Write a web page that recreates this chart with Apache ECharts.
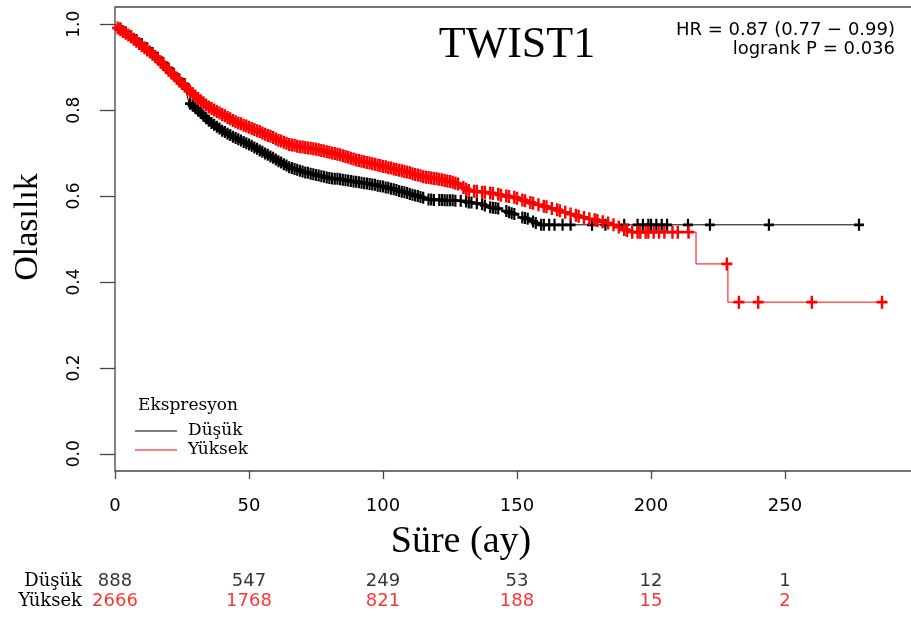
<!DOCTYPE html>
<html>
<head>
<meta charset="utf-8">
<script src="https://cdn.jsdelivr.net/npm/echarts@6.0.0/dist/echarts.min.js"></script>
<style>
  html, body { margin: 0; padding: 0; background: #fff; }
  #chart { width: 911px; height: 617px; }
</style>
</head>
<body>
<div id="chart"></div>
<script>
// Kaplan–Meier survival, TWIST1 expression groups (time in months)

// Survival outline, low expression (Düşük)
const dusukKM = [[0,1],[5,0.978],[10,0.955],[15,0.928],[20,0.897],[24,0.871],[26,0.86],[27.5,0.818],[30,0.805],[35,0.775],[40,0.752],[45,0.735],[50,0.72],[55,0.703],[60,0.685],[65,0.667],[70,0.657],[75,0.649],[80,0.642],[85,0.638],[90,0.633],[95,0.628],[100,0.622],[105,0.614],[110,0.605],[115,0.596],[117,0.592],[130,0.589],[132,0.585],[137,0.581],[139,0.574],[146,0.565],[149,0.558],[152,0.55],[155,0.545],[157,0.537],[159,0.533],[277.6,0.533]];

// Censored observations, low expression
const dusukCensor = [[2,0.990],[4,0.981],[6,0.972],[8,0.963],[10,0.954],[12,0.944],[14,0.933],[16,0.922],[18,0.910],[20,0.897],[22,0.884],[24,0.871],[26,0.86],
[28,0.815],[29,0.810],[30,0.805],[31,0.799],[32,0.793],[33,0.787],[34,0.781],[35,0.775],[36,0.770],[37,0.766],[38,0.761],[39,0.757],[40,0.752],[41,0.749],[42,0.745],[43,0.742],[44,0.738],[45,0.735],[46,0.732],[47,0.729],[48,0.726],[49,0.723],[50,0.720],[51,0.717],[52,0.713],[53,0.710],[54,0.706],[55,0.703],[56,0.699],[57,0.696],[58,0.692],[59,0.689],[60,0.685],[61,0.681],[62,0.678],[63,0.674],[64,0.671],[65,0.667],[66,0.665],[67,0.663],[68,0.661],[69,0.659],[70,0.657],[71,0.655],[72,0.654],[73,0.652],[74,0.651],[75,0.649],[76,0.648],[77,0.646],[78,0.645],[79,0.643],[80,0.642],[81,0.641],[82,0.640],[83,0.640],[84,0.639],[85,0.638],[86,0.637],[87,0.636],[88,0.635],[89,0.634],[90,0.633],[91,0.632],[92,0.631],[93,0.630],[94,0.629],[95,0.628],[96,0.627],[97,0.626],[98,0.624],[99,0.623],[100,0.622],[101,0.620],[102,0.619],[103,0.617],[104,0.616],[105,0.614],[106,0.612],[107,0.610],[108,0.609],[109,0.607],[110,0.605],[111,0.603],[112,0.601],[113,0.600],[114,0.598],[115,0.596],
[117,0.592],[118,0.592],[119,0.591],[121,0.591],[122,0.591],[123,0.590],[124,0.590],[125,0.590],[126,0.590],[127,0.589],[129,0.589],[131,0.587],[132,0.585],[133,0.585],[135,0.583],[137,0.581],[138,0.578],[140,0.574],[141,0.573],[142,0.572],[143,0.571],[146,0.565],[147,0.562],[148,0.560],[149,0.558],[152,0.550],[153,0.549],[154,0.547],[156,0.541],[157,0.537],[159,0.533],[160,0.533],[162,0.533],[164,0.533],[167,0.533],[170,0.533],[178,0.533],[183,0.533],[190,0.533],[195,0.533],[197,0.533],[199,0.533],[200,0.533],[202,0.533],[204,0.533],[206,0.533],[213.8,0.533],[222,0.533],[244,0.533],[277.6,0.533]];

// Survival outline, high expression (Yüksek)
const yuksekKM = [[0,1],[1,0.991],[5,0.975],[10,0.95],[15,0.925],[20,0.893],[25,0.862],[30,0.832],[35,0.807],[40,0.79],[45,0.773],[50,0.76],[55,0.747],[60,0.733],[65,0.72],[70,0.714],[75,0.709],[80,0.702],[85,0.694],[90,0.684],[95,0.677],[100,0.669],[105,0.662],[110,0.654],[115,0.645],[120,0.64],[125,0.634],[128,0.628],[132,0.613],[140,0.607],[150,0.595],[155,0.585],[160,0.576],[165,0.568],[170,0.558],[175,0.55],[180,0.543],[185,0.535],[190,0.522],[193,0.516],[216.8,0.516],[216.8,0.442],[228.7,0.442],[228.7,0.353],[286.2,0.353]];

// Censored observations, high expression
const yuksekCensor = [[1,0.991],[2,0.987],[3,0.983],[4,0.979],[5,0.975],[6,0.970],[7,0.965],[8,0.960],[9,0.955],[10,0.950],[11,0.945],[12,0.940],[13,0.935],[14,0.930],[15,0.925],[16,0.919],[17,0.912],[18,0.906],[19,0.899],[20,0.893],[21,0.887],[22,0.881],[23,0.874],[24,0.868],[25,0.862],[26,0.856],[27,0.850],[28,0.844],[29,0.838],[30,0.832],[31,0.827],[32,0.822],[33,0.817],[34,0.812],[35,0.807],[36,0.804],[37,0.800],[38,0.797],[39,0.793],[40,0.790],[41,0.787],[42,0.783],[43,0.780],[44,0.776],[45,0.773],[46,0.770],[47,0.768],[48,0.765],[49,0.763],[50,0.760],[51,0.757],[52,0.755],[53,0.752],[54,0.750],[55,0.747],[56,0.744],[57,0.741],[58,0.739],[59,0.736],[60,0.733],[61,0.730],[62,0.728],[63,0.725],[64,0.723],[65,0.720],[66,0.719],[67,0.718],[68,0.716],[69,0.715],[70,0.714],[71,0.713],[72,0.712],[73,0.711],[74,0.710],[75,0.709],[76,0.708],[77,0.706],[78,0.705],[79,0.703],[80,0.702],[81,0.700],[82,0.699],[83,0.697],[84,0.696],[85,0.694],[86,0.692],[87,0.690],[88,0.688],[89,0.686],[90,0.684],[91,0.683],[92,0.681],[93,0.680],[94,0.678],[95,0.677],[96,0.675],[97,0.674],[98,0.672],[99,0.671],[100,0.669],[101,0.668],[102,0.666],[103,0.665],[104,0.663],[105,0.662],[106,0.660],[107,0.659],[108,0.657],[109,0.656],[110,0.654],[111,0.652],[112,0.650],[113,0.649],[114,0.647],[115,0.645],[116,0.644],[117,0.643],[118,0.642],[119,0.641],[120,0.640],[121,0.639],[122,0.638],[123,0.636],[124,0.635],[125,0.634],[126,0.632],[127,0.630],[128,0.628],
[130,0.620],[131,0.616],[132,0.613],[134,0.611],[135,0.611],[137,0.609],[138,0.609],[140,0.607],[141,0.606],[143,0.604],[144,0.602],[146,0.600],[147,0.599],[149,0.597],[150,0.595],[152,0.591],[153,0.589],[155,0.585],[156,0.583],[158,0.580],[160,0.576],[161,0.575],[163,0.571],[165,0.568],[166,0.566],[168,0.562],[170,0.558],[172,0.555],[173,0.553],[175,0.550],[177,0.547],[179,0.545],[180,0.543],[182,0.540],[184,0.537],[186,0.533],[188,0.528],[190,0.522],[191,0.520],[193,0.516],[195,0.516],[196,0.516],[198,0.516],[199,0.516],[201,0.516],[203,0.516],[205,0.516],[208,0.516],[210,0.516],[214,0.516],[228.3,0.442],[232.8,0.353],[240,0.353],[260,0.353],[286.2,0.353]];

// Numbers at risk
const riskTimes = [0, 50, 100, 150, 200, 250];
const riskDusuk = [888, 547, 249, 53, 12, 1];
const riskYuksek = [2666, 1768, 821, 188, 15, 2];

// Axis tick values
const xTicks = [0, 50, 100, 150, 200, 250];
const yTicks = [0, 0.2, 0.4, 0.6, 0.8, 1.0];

const groupNames = ['Düşük', 'Yüksek'];
const SANS = 'DejaVu Sans';
const SERIF2 = 'DejaVu Serif';
// censoring tick: a plus sign
const plusPath = 'path://M0.39,0h0.22v0.39h0.39v0.22h-0.39v0.39h-0.22v-0.39h-0.39v-0.22h0.39z';

const chart = echarts.init(document.getElementById('chart'), null, { renderer: 'canvas' });

const riskData = (counts, row) => riskTimes.map((t, i) => [t, row, counts[i]]);

const X_MAX = 300;
const PLOT_W = 804;

const staticGraphics = [
  { type: 'text', x: 517, y: 45, style: { text: 'TWIST1', font: '44px "Liberation Serif"', fill: '#000', textAlign: 'center', textVerticalAlign: 'middle' } },
  { type: 'text', x: 895, y: 30, style: { text: 'HR = 0.87 (0.77 − 0.99)', font: '18px "DejaVu Sans"', fill: '#000', textAlign: 'right', textVerticalAlign: 'middle' } },
  { type: 'text', x: 895, y: 49, style: { text: 'logrank P = 0.036', font: '18px "DejaVu Sans"', fill: '#000', textAlign: 'right', textVerticalAlign: 'middle' } },
  { type: 'text', x: 461, y: 542, style: { text: 'Süre (ay)', font: '38px "Liberation Serif"', fill: '#000', textAlign: 'center', textVerticalAlign: 'middle' } },
  { type: 'text', x: 28, y: 227, rotation: Math.PI / 2, style: { text: 'Olasılık', font: '34px "Liberation Serif"', fill: '#000', textAlign: 'center', textVerticalAlign: 'middle' } },
  { type: 'text', x: 138, y: 406, style: { text: 'Ekspresyon', font: '17px "DejaVu Serif"', fill: '#000', textAlign: 'left', textVerticalAlign: 'middle' } }
];

const option = {
  animation: false,
  backgroundColor: '#ffffff',
  grid: [
    { left: 115, top: 7, width: PLOT_W, height: 464, show: true, borderColor: '#444', borderWidth: 1.3, backgroundColor: 'transparent', containLabel: false, outerBoundsMode: 'none' },
    { left: 115, top: 571, width: PLOT_W, height: 40, show: false, containLabel: false, outerBoundsMode: 'none' }
  ],
  xAxis: [
    {
      type: 'value', gridIndex: 0, min: 0, max: X_MAX,
      axisLine: { show: false, onZero: false },
      splitLine: { show: false },
      axisTick: { show: true, length: 8, lineStyle: { color: '#444', width: 1.3 }, customValues: xTicks },
      axisLabel: { color: '#000', fontFamily: SANS, fontSize: 18, margin: 26, customValues: xTicks }
    },
    {
      type: 'value', gridIndex: 1, min: 0, max: X_MAX, show: false
    }
  ],
  yAxis: [
    {
      type: 'value', gridIndex: 0, min: -0.04, max: 1.04,
      axisLine: { show: false, onZero: false },
      splitLine: { show: false },
      axisTick: { show: true, length: 15, lineStyle: { color: '#444', width: 1.3 }, customValues: yTicks },
      axisLabel: { show: false }
    },
    {
      type: 'category', gridIndex: 1, data: ['Yüksek', 'Düşük'],
      axisLine: { show: false }, axisTick: { show: false }, splitLine: { show: false },
      axisLabel: { color: '#000', fontFamily: SERIF2, fontSize: 18, margin: 33, interval: 0 }
    }
  ],
  legend: {
    orient: 'vertical', left: 135, top: 421.5, padding: 0, itemGap: 0,
    itemWidth: 42, itemHeight: 1.2, icon: 'rect', selectedMode: false,
    data: groupNames,
    textStyle: { fontFamily: SERIF2, fontSize: 17, lineHeight: 19, color: '#000', padding: [0, 0, 0, 6] }
  },
  series: [
    {
      name: groupNames[0], type: 'line', xAxisIndex: 0, yAxisIndex: 0,
      data: dusukKM, showSymbol: false, color: '#000',
      lineStyle: { color: '#000', width: 1 }, z: 2
    },
    {
      name: 'censor-dusuk', type: 'scatter', xAxisIndex: 0, yAxisIndex: 0,
      data: dusukCensor, symbol: plusPath, symbolSize: [10, 12],
      itemStyle: { color: '#000', opacity: 1 }, z: 2
    },
    {
      name: groupNames[1], type: 'line', xAxisIndex: 0, yAxisIndex: 0,
      data: yuksekKM, showSymbol: false, color: '#ff0000',
      lineStyle: { color: '#ff0000', width: 1 }, z: 3
    },
    {
      name: 'censor-yuksek', type: 'scatter', xAxisIndex: 0, yAxisIndex: 0,
      data: yuksekCensor, symbol: plusPath, symbolSize: [11, 13],
      itemStyle: { color: '#ff0000', opacity: 1 }, z: 3
    },
    {
      name: 'risk-dusuk', type: 'scatter', xAxisIndex: 1, yAxisIndex: 1,
      data: riskData(riskDusuk, 'Düşük'), symbolSize: 1,
      itemStyle: { color: 'rgba(0,0,0,0)' },
      label: { show: true, position: 'inside', formatter: p => String(p.value[2]), color: '#000', fontFamily: SANS, fontSize: 18 }
    },
    {
      name: 'risk-yuksek', type: 'scatter', xAxisIndex: 1, yAxisIndex: 1,
      data: riskData(riskYuksek, 'Yüksek'), symbolSize: 1,
      itemStyle: { color: 'rgba(0,0,0,0)' },
      label: { show: true, position: 'inside', formatter: p => String(p.value[2]), color: '#ff0000', fontFamily: SANS, fontSize: 18 }
    }
  ],
  graphic: staticGraphics
};

chart.setOption(option);

// Rotated y tick labels, placed at the axis scale positions
const yLabelX = 74.5;
const yLabelGraphics = yTicks.map(v => {
  const py = chart.convertToPixel({ yAxisIndex: 0 }, v);
  return {
    type: 'text', x: yLabelX, y: py, rotation: Math.PI / 2,
    style: { text: v.toFixed(1), font: '17px "DejaVu Sans"', fill: '#000', textAlign: 'center', textVerticalAlign: 'middle' }
  };
});
chart.setOption({ graphic: staticGraphics.concat(yLabelGraphics) });
</script>
</body>
</html>
